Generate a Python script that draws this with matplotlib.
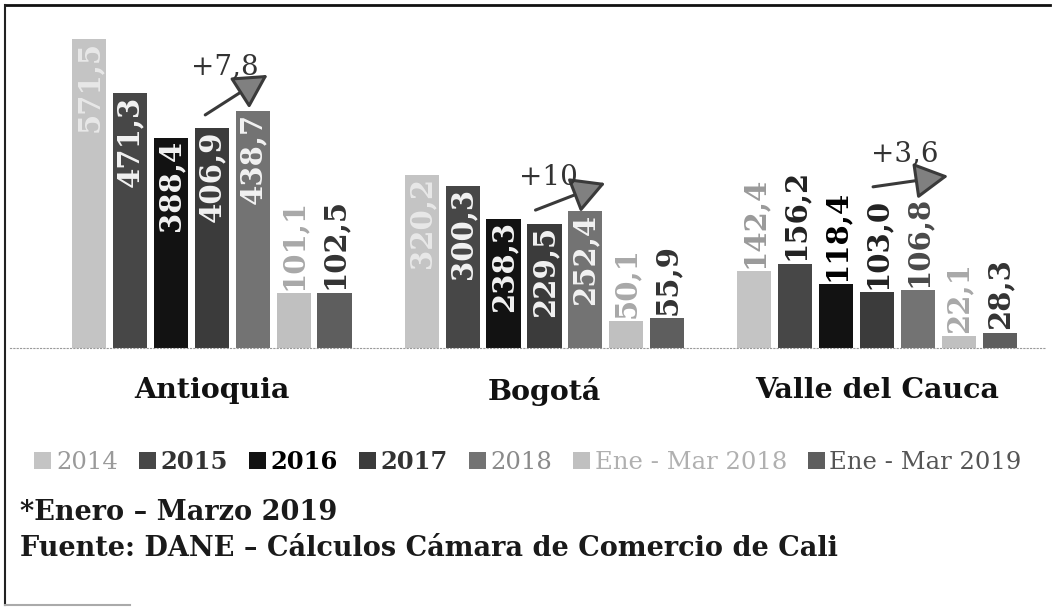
import matplotlib
matplotlib.use("Agg")
import matplotlib.pyplot as plt
from matplotlib.patches import Patch, FancyArrowPatch
from matplotlib.lines import Line2D
import numpy as np

categories = ["Antioquia", "Bogotá", "Valle del Cauca"]
series = ["2014", "2015", "2016", "2017", "2018", "Ene - Mar 2018", "Ene - Mar 2019"]
v2014 = [571.5, 320.2, 142.4]
v2015 = [471.3, 300.3, 156.2]
v2016 = [388.4, 238.3, 118.4]
v2017 = [406.9, 229.5, 103.0]
v2018 = [438.7, 252.4, 106.8]
v_em2018 = [101.1, 50.1, 22.1]
v_em2019 = [102.5, 55.9, 28.3]
growth_labels = ["+7,8", "+10", "+3,6"]

values = [v2014, v2015, v2016, v2017, v2018, v_em2018, v_em2019]
colors = ["#c4c4c4", "#474747", "#121212", "#3b3b3b", "#737373", "#c0c0c0", "#5e5e5e"]
above_colors = ["#9a9a9a", "#222222", "#000000", "#222222", "#4a4a4a", "#a8a8a8", "#333333"]
legend_text_colors = ["#9a9a9a", "#333333", "#000000", "#333333", "#8a8a8a", "#b0b0b0", "#555555"]
legend_weights = ["normal", "bold", "bold", "bold", "normal", "normal", "normal"]

FONT = "DejaVu Serif"
plt.rcParams["font.family"] = [FONT, "DejaVu Sans"]

W, H = 1058, 615
fig = plt.figure(figsize=(W / 100, H / 100), dpi=100)
ax = fig.add_axes([10 / W, (H - 348) / H, (1045 - 10) / W, (348 - 30) / H])

x = np.arange(len(categories))
step = 0.123
width = 0.103
n = len(series)
for i, (vals, col) in enumerate(zip(values, colors)):
    xs = x + (i - (n - 1) / 2) * step
    ax.bar(xs, vals, width=width, color=col, edgecolor="none", zorder=2)
    for g, (xi, v) in enumerate(zip(xs, vals)):
        txt = f"{v:.1f}".replace(".", ",")
        inside = v > 200
        if inside:
            c = "#f2f2f2" if i != 0 else "#e8e8e8"
            ax.text(xi, v - 4, txt, rotation=90, ha="center", va="top",
                    fontsize=21, fontweight="bold", color=c, zorder=3)
        else:
            ax.text(xi, v + 6, txt, rotation=90, ha="center", va="bottom",
                    fontsize=21, fontweight="bold", color=above_colors[i], zorder=3)

ax.set_xlim(-0.607, 2.505)
ax.set_ylim(0, 588)
for s in ["top", "right", "left"]:
    ax.spines[s].set_visible(False)
ax.spines["bottom"].set_linestyle((0, (1, 2)))
ax.spines["bottom"].set_color("#999999")
ax.set_yticks([])
ax.set_xticks(x)
ax.set_xticklabels(categories, fontsize=20.5, fontweight="bold", color="#111111")
ax.tick_params(axis="x", length=0, pad=21)

# growth arrows: (tail x offset, tail y, tip x offset, tip y, text x offset, text y)
arrow_geo = [(-0.02, 431, 0.168, 505, 0.04, 520),
             (-0.027, 255, 0.183, 305, 0.012, 316),
             (-0.012, 298, 0.214, 318, 0.084, 359)]
for g, (tx, ty, hx, hy, lx, ly) in enumerate(arrow_geo):
    arr = FancyArrowPatch((g + tx, ty), (g + hx, hy),
                          arrowstyle="-|>,head_length=1.1,head_width=0.6",
                          mutation_scale=19, linewidth=2.2, zorder=4,
                          shrinkA=0, shrinkB=0)
    arr.set_facecolor("#808080")
    arr.set_edgecolor("#3a3a3a")
    ax.add_patch(arr)
    ax.text(g + lx, ly, growth_labels[g], ha="center", va="center", fontsize=20,
            color="#333333", zorder=4)

handles = [Patch(facecolor=c, edgecolor="none") for c in colors]
leg = fig.legend(handles, series, loc="center", bbox_to_anchor=(528 / W, (H - 462) / H), ncol=7,
                 frameon=False, fontsize=17.5, handlelength=0.7, handleheight=0.7,
                 handletextpad=0.2, columnspacing=0.85)
for t, c, w in zip(leg.get_texts(), legend_text_colors, legend_weights):
    t.set_color(c)
    t.set_fontweight(w)

fig.text(20 / W, (H - 513) / H, "*Enero – Marzo 2019", fontsize=19.5, fontweight="bold",
         color="#1a1a1a", va="center", ha="left")
fig.text(20 / W, (H - 548) / H, "Fuente: DANE – Cálculos Cámara de Comercio de Cali", fontsize=19.5,
         fontweight="bold", color="#1a1a1a", va="center", ha="left")

# outer frame
fig.add_artist(Line2D([5 / W, 1050 / W], [1 - 5 / H, 1 - 5 / H], color="#111111", lw=2))
fig.add_artist(Line2D([5 / W, 5 / W], [1 - 5 / H, 1 - 605 / H], color="#222222", lw=1.5))
fig.add_artist(Line2D([5 / W, 130 / W], [1 - 605 / H, 1 - 605 / H], color="#aaaaaa", lw=1.5))

fig.savefig("out.png", dpi=100)
